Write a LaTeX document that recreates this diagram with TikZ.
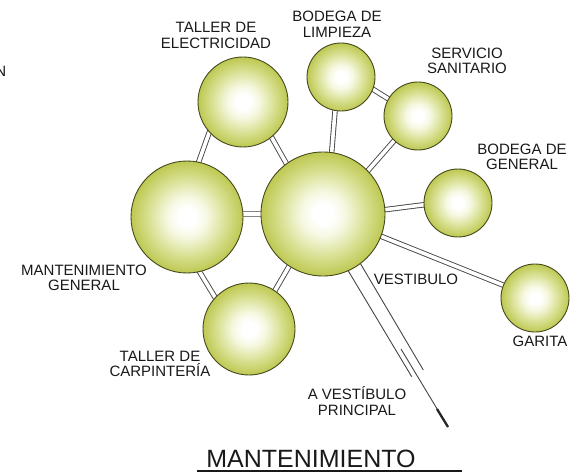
\documentclass[tikz,border=0pt]{standalone}
\usepackage{fontspec}
\setmainfont{Liberation Sans}
\definecolor{olW}{RGB}{246,248,225}
\definecolor{olA}{RGB}{214,222,140}
\definecolor{olB}{RGB}{182,194,64}
\definecolor{olC}{RGB}{146,158,30}
\definecolor{olLine}{RGB}{70,72,30}
\definecolor{lnGray}{RGB}{70,70,70}
\pgfdeclareradialshading{olball}{\pgfpoint{0bp}{0bp}}{color(0bp)=(white); color(4bp)=(white); color(9bp)=(olW); color(18bp)=(olA); color(27bp)=(olB); color(35bp)=(olC); color(50bp)=(olC)}
\pgfdeclarelayer{bg}
\pgfsetlayers{bg,main}
\tikzset{
  room/.style={circle, draw=olLine, line width=0.9pt, shading=olball, minimum size=#1, inner sep=0pt},
  dbl/.style={draw=lnGray, line width=0.9pt, double=white, double distance=3.6pt, shorten <=-5pt, shorten >=-5pt},
  sgl/.style={draw=lnGray, line width=0.9pt},
  lbl/.style={font=\fontsize{15}{15.5}\selectfont, align=center, anchor=base, inner sep=0pt, text=black!90}
}
\begin{document}
\begin{tikzpicture}[x=1pt,y=-1pt]
\useasboundingbox (0,0) rectangle (586,473);
% rooms
\node[room=90]  (elec) at (243,102) {};
\node[room=68]  (limp) at (341,77) {};
\node[room=68]  (sani) at (418,116) {};
\node[room=124] (cent) at (323,214) {};
\node[room=68]  (bgen) at (458,203) {};
\node[room=68]  (gar)  at (535,298) {};
\node[room=112] (mant) at (187,217) {};
\node[room=92]  (carp) at (249,329) {};
% vestibulo line ends
\coordinate (vL) at (411.7,376.7);
\coordinate (vR) at (423.3,370);
\coordinate (vS) at (401,349);
\coordinate (vT) at (437,409);
\coordinate (vE) at (448,427);
\begin{pgfonlayer}{bg}
\fill[white] (0,0) rectangle (586,473);
\draw[dbl] (elec.222) -- (mant.78);
\draw[dbl] (elec.309) -- (cent.126);
\draw[dbl] (limp.260) -- (cent.82);
\draw[dbl] (limp.339) -- (sani.150);
\draw[dbl] (sani.226) -- (cent.44);
\draw[dbl] (cent.4.6) -- (bgen.183);
\draw[dbl] (cent.339) -- (gar.158);
\draw[dbl] (mant.3) -- (cent.180);
\draw[dbl] (mant.283) -- (carp.137);
\draw[dbl] (carp.56) -- (cent.237.6);
\draw[sgl, shorten <=-5pt] (cent.294) -- (vL);
\draw[sgl, shorten <=-5pt] (cent.307.4) -- (vR);
\end{pgfonlayer}
\draw[sgl] (vS) -- (vE);
\draw[draw=black!85, line width=2.3pt] (vT) -- (vE);
% labels (anchor at baseline of last line)
\node[lbl] (tElec) at (216,48.3) {TALLER DE\\ELECTRICIDAD};
\node[lbl] (tLimp) at (337,37.3) {BODEGA DE\\LIMPIEZA};
\node[lbl] (tSani) at (467,74) {SERVICIO\\SANITARIO};
\node[lbl] (tBgen) at (522,170) {BODEGA DE\\GENERAL};
\node[lbl] (tVest) at (416,284.3) {VESTIBULO};
\node[lbl] (tGar) at (540,346.7) {GARITA};
\node[lbl] (tAV) at (357,415) {A VESTÍBULO\\PRINCIPAL};
\node[lbl] (tMant) at (84,290.7) {MANTENIMIENTO\\GENERAL};
\node[lbl] (tCarp) at (160,376.7) {TALLER DE\\CARPINTERÍA};
\node[lbl, anchor=base east] (tN) at (6.5,77) {N};
% title
\node[font=\fontsize{25}{25}\selectfont, anchor=base, inner sep=0pt, text=black!90] (title) at (311,467) {MANTENIMIENTO};
\coordinate (uA) at (197,471);
\coordinate (uB) at (462,471);
\draw[line width=1.8pt, black!90] (uA) -- (uB);
\end{tikzpicture}
\end{document}
